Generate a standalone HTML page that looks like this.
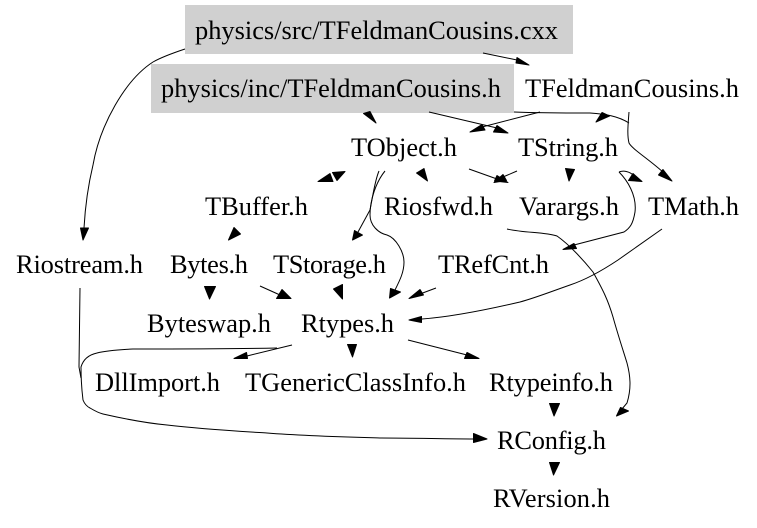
<!DOCTYPE html>
<html><head><meta charset="utf-8">
<style>html,body{margin:0;padding:0;background:#fff}svg{display:block}text{font-family:"Liberation Serif",serif;font-size:26.4px;fill:#000}</style>
</head><body>
<svg width="757" height="528" viewBox="0 0 757 528" xmlns="http://www.w3.org/2000/svg">
<rect width="757" height="528" fill="#fff"/>
<rect x="185" y="5" width="388" height="49" fill="#d0d0d0"/>
<rect x="151" y="64" width="363" height="49" fill="#d0d0d0"/>
<g fill="none" stroke="#000" stroke-width="1">
<path d="M185,49C170,54 160,58 153,62C125,80 100,125 93,165C87,190 85,210 84,228"/>
<path d="M483,53L517,60"/>
<path d="M429,112L497,128"/>
<path d="M540,112L482,127"/>
<path d="M514,112C540,113 570,113 590,113C605,114 618,116 629,123"/>
<path d="M629,112C628,125 627,135 629,143C632,149 650,160 664,173"/>
<path d="M379,171C375,180 373,195 370,210"/>
<path d="M370,210L358,232"/>
<path d="M385,171C376,182 370,200 370,215C370,225 378,233 387,235C396,238 404,252 404,262C404,272 400,280 395,290"/>
<path d="M469,169L497,179"/>
<path d="M517,171L503,177"/>
<path d="M619,172C624,170 630,172 633,175"/>
<path d="M619,172C627,180 637,195 635,212C633,224 630,228 624,232L574,245"/>
<path d="M507,229C525,233 545,232 557,236C570,245 585,262 593,272C603,290 608,300 613,317C618,335 623,350 627,363C631,378 631,390 627,403L622,409"/>
<path d="M662,229L618,260C600,272 585,280 570,285C550,292 535,298 520,302C490,309 450,317 422,319"/>
<path d="M260,286L280,295"/>
<path d="M436,288L420,294"/>
<path d="M292,345L247,356"/>
<path d="M277,348C230,349 170,349 133,349C115,350 105,351 97,353C88,355 83,360 81,367C81,380 82,392 83,400C85,405 88,407 90,408C95,411 99,413 103,414C125,419 145,423 167,425C200,429 235,431 267,433C305,436 345,437 380,438C415,438 445,439 474,439"/>
<path d="M80,288L79,367L81,378"/>
<path d="M408,340L467,355"/>
</g>
<g fill="#000" stroke="#000" stroke-width="1" stroke-linejoin="round">
<polygon points="83,240 80.5,228 88.5,228"/>
<polygon points="529,65 517,57.5 516,63"/>
<polygon points="376,123 363.5,113.5 370,111.5"/>
<polygon points="508,133 497,125.5 493.5,132"/>
<polygon points="470,132 482,124.5 485,130"/>
<polygon points="596,122 602,112.5 609.5,116"/>
<polygon points="672,181 663,169.5 658.5,175"/>
<polygon points="318,181.5 330,173.5 333,181.5"/>
<polygon points="345,171.5 332.5,172.5 337,180.5"/>
<polygon points="427.5,181 424,168.5 416.5,173"/>
<polygon points="508,182.5 497,175.5 494.5,181"/>
<polygon points="494,182.5 503,174.5 506.5,180.5"/>
<polygon points="569,181 565.5,168.5 574.5,169.5"/>
<polygon points="642,181.5 633,173.5 628.5,180.5"/>
<polygon points="563,249.5 574,243.5 576.5,248.5"/>
<polygon points="616.5,416 620.5,407.5 628.5,411"/>
<polygon points="409,320 421.5,316.5 421.5,322.5"/>
<polygon points="352.5,240 354.5,230.5 362.5,235"/>
<polygon points="389.5,298 390.5,288.5 400.5,292"/>
<polygon points="228.5,240 234,227.5 240.5,234"/>
<polygon points="209.5,299 204.5,286.5 215.5,286.5"/>
<polygon points="291,298.5 282,289.5 276.5,298.5"/>
<polygon points="342.5,299 333.5,289 342.5,284.5"/>
<polygon points="409,298.5 420,289.5 423.5,295"/>
<polygon points="352.5,357 347.5,344.5 356.5,344.5"/>
<polygon points="234,358.5 246.5,352.5 247.5,358.5"/>
<polygon points="487,439 473.5,433.5 473.5,442.5"/>
<polygon points="479,358.5 467,352.5 464.5,358.5"/>
<polygon points="554,416 549.5,403.5 559.5,403.5"/>
<polygon points="553.5,475 549.5,462.5 559.5,462.5"/>
</g>
<text x="195" y="39" textLength="363">physics/src/TFeldmanCousins.cxx</text>
<text x="161" y="97" textLength="340">physics/inc/TFeldmanCousins.h</text>
<text x="525" y="97" textLength="214">TFeldmanCousins.h</text>
<text x="351" y="156" textLength="106">TObject.h</text>
<text x="518" y="156" textLength="100">TString.h</text>
<text x="205" y="215" textLength="103">TBuffer.h</text>
<text x="384" y="215" textLength="109">Riosfwd.h</text>
<text x="519" y="215" textLength="100">Varargs.h</text>
<text x="648" y="215" textLength="91">TMath.h</text>
<text x="16" y="273" textLength="127">Riostream.h</text>
<text x="170" y="273" textLength="78">Bytes.h</text>
<text x="273" y="273" textLength="113">TStorage.h</text>
<text x="438" y="273" textLength="111">TRefCnt.h</text>
<text x="147" y="332" textLength="124">Byteswap.h</text>
<text x="301" y="332" textLength="93">Rtypes.h</text>
<text x="95" y="391" textLength="125">DllImport.h</text>
<text x="245" y="391" textLength="221">TGenericClassInfo.h</text>
<text x="489" y="391" textLength="124">Rtypeinfo.h</text>
<text x="497" y="449" textLength="109">RConfig.h</text>
<text x="493" y="507" textLength="117">RVersion.h</text>
</svg>
</body></html>
